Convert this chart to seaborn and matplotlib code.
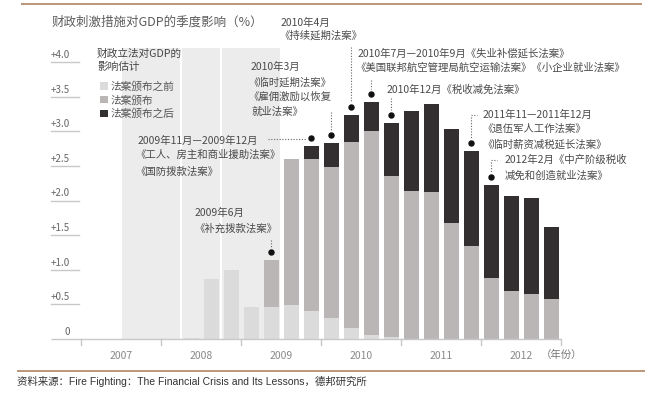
import matplotlib
matplotlib.use("Agg")
import matplotlib.pyplot as plt
from matplotlib.patches import Patch, Rectangle
import seaborn as sns
import pandas as pd

# ---------------- data ----------------
quarters = ["2008Q2", "2008Q3", "2008Q4", "2009Q1", "2009Q2", "2009Q3", "2009Q4",
            "2010Q1", "2010Q2", "2010Q3", "2010Q4", "2011Q1", "2011Q2", "2011Q3",
            "2011Q4", "2012Q1", "2012Q2", "2012Q3", "2012Q4"]
before = [0.02, 0.87, 1.00, 0.46, 0.46, 0.49, 0.41, 0.30, 0.16, 0.06, 0.03,
          0, 0, 0, 0, 0, 0, 0, 0]
enacted = [0, 0, 0, 0, 0.68, 2.11, 2.19, 2.19, 2.68, 2.94, 2.32,
           2.13, 2.12, 1.68, 1.34, 0.88, 0.70, 0.65, 0.58]
after = [0, 0, 0, 0, 0, 0, 0.18, 0.34, 0.39, 0.42, 0.77,
         1.16, 1.27, 1.35, 1.37, 1.34, 1.37, 1.38, 1.04]
series_names = ["法案颁布之前", "法案颁布", "法案颁布之后"]
years = ["2007", "2008", "2009", "2010", "2011", "2012"]
ytick_values = [0, 0.5, 1.0, 1.5, 2.0, 2.5, 3.0, 3.5, 4.0]
ytick_labels = ["0", "+0.5", "+1.0", "+1.5", "+2.0", "+2.5", "+3.0", "+3.5", "+4.0"]
shade_periods = [("2007Q3", "2008Q1"), ("2008Q2", "2008Q3"), ("2008Q4", "2009Q2")]

title = "财政刺激措施对GDP的季度影响（%）"
legend_title = ["财政立法对GDP的", "影响估计"]
source = "资料来源：Fire Fighting：The Financial Crisis and Its Lessons，德邦研究所"
unit_label = "（年份）"

# annotation text lines: (text, x_px, y_px)
annotation_texts = [
    ("2010年4月", 281, 23),
    ("《持续延期法案》", 279, 35),
    ("2010年7月—2010年9月《失业补偿延长法案》", 358, 53),
    ("《美国联邦航空管理局航空运输法案》《小企业就业法案》", 355, 68),
    ("2010年3月", 251, 67),
    ("《临时延期法案》", 248, 82),
    ("《雇佣激励以恢复", 248, 97),
    ("就业法案》", 251, 112),
    ("2010年12月《税收减免法案》", 387, 90),
    ("2009年11月—2009年12月", 138, 141),
    ("《工人、房主和商业援助法案》", 135, 155),
    ("《国防拨款法案》", 135, 172),
    ("2009年6月", 195, 213),
    ("《补充拨款法案》", 194, 229),
    ("2011年11—2011年12月", 483, 115),
    ("《退伍军人工作法案》", 482, 129),
    ("《临时薪资减税延长法案》", 482, 144),
    ("2012年2月《中产阶级税收", 505, 160),
    ("减免和创造就业法案》", 505, 176),
]
# annotated quarters with connector style
annotated = [
    ("2009Q2", "v", 240),
    ("2009Q4", "h", 268),
    ("2010Q1", "v", 112),
    ("2010Q2", "v", 47),
    ("2010Q3", "v", 80),
    ("2010Q4", "v", 98),
    ("2011Q4", "hv", 115),
    ("2012Q1", "hv", 160),
]

# ---------------- style ----------------
LIGHT = "#dcdbdb"
MID = "#bab6b6"
DARK = "#332e2f"
SHADE = "#ececec"
BROWN = "#b08463"
TXT = "#4a4a4a"

plt.rcParams["font.family"] = ["Noto Sans CJK SC", "DejaVu Sans"]

W, H = 645, 397
fig = plt.figure(figsize=(W / 100, H / 100), dpi=100)
ax = fig.add_axes([0, 0, 1, 1])

X0, QW, Y0, UNIT = 81, 20, 339, 69.25


def dx(px):
    return (px - X0) / QW


def dy(py):
    return (Y0 - py) / UNIT


def qindex(label):
    return (int(label[:4]) - 2007) * 4 + int(label[-1]) - 1


def qpos(label):
    return qindex(label) + 0.5


df = pd.DataFrame({"quarter": quarters, "before": before,
                   "enacted": enacted, "after": after})
df["pos"] = df["quarter"].map(qpos)
df["mid_top"] = df["before"] + df["enacted"]
df["total"] = df["mid_top"] + df["after"]

# background shading
for start, end in shade_periods:
    x_a = qindex(start) + 0.06
    x_b = qindex(end) + 1 - 0.06
    ax.add_patch(Rectangle((x_a, 0), x_b - x_a, dy(48), facecolor=SHADE,
                           edgecolor="none", zorder=0))

common = dict(data=df, x="pos", native_scale=True, saturation=1, width=0.75,
              linewidth=0, errorbar=None, ax=ax, orient="x", zorder=2)
sns.barplot(y="total", color=DARK, **common)
sns.barplot(y="mid_top", color=MID, **common)
sns.barplot(y="before", color=LIGHT, **common)

ax.set_xlim(dx(0), dx(W))
ax.set_ylim(dy(H), dy(0))
ax.axis("off")

# baseline + year ticks
ax.plot([dx(51), 24], [0, 0], color="#c8c8c8", lw=1.0, zorder=3,
        solid_capstyle="butt")
for i in range(len(years) + 1):
    ax.plot([4 * i, 4 * i], [0, dy(345)], color="#c8c8c8", lw=1.0, zorder=3)
for i, yr in enumerate(years):
    ax.text(4 * i + 2, dy(356), yr, ha="center", va="center", fontsize=7.5,
            color="#888888")
ax.text(dx(541), dy(355), unit_label, ha="left", va="center", fontsize=7.5,
        color="#777777")

# y ticks
for v, lab in zip(ytick_values, ytick_labels):
    if v > 0:
        ax.plot([dx(51), dx(79)], [v, v], color="#c8c8c8", lw=1.0, zorder=3)
    ax.text(dx(70), v + 7 / UNIT, lab, ha="right", va="center", fontsize=7,
            color="#666666")

# title
ax.text(dx(52), dy(22.5), title, ha="left", va="center", fontsize=9,
        color="#5c5c5c")

# legend
ax.text(dx(97), dy(54), legend_title[0], ha="left", va="center", fontsize=7.7,
        color="#444444")
ax.text(dx(97), dy(67), legend_title[1], ha="left", va="center", fontsize=7.7,
        color="#444444")
handles = [Patch(facecolor=c, edgecolor="none") for c in (LIGHT, MID, DARK)]
leg = ax.legend(handles, series_names, loc="upper left",
                bbox_to_anchor=(100 / W, 1 - 81 / H), bbox_transform=fig.transFigure,
                frameon=False, fontsize=7.7,
                handlelength=0.75, handleheight=0.7, handletextpad=0.2,
                labelspacing=0.3, borderpad=0, borderaxespad=0)
for t in leg.get_texts():
    t.set_color("#555555")

# annotations
for txt, px, py in annotation_texts:
    ax.text(dx(px), dy(py), txt, ha="left", va="center", fontsize=7.5, color=TXT)

DOT_OFF = 8 / UNIT
dot_style = dict(color="#666666", lw=0.8, linestyle=(0, (1, 1.5)), zorder=3)
for q, kind, val in annotated:
    row = df[df["quarter"] == q].iloc[0]
    xc = row["pos"]
    yd = row["total"] + DOT_OFF
    ax.plot([xc], [yd], marker="o", markersize=3.6, color="#111111", zorder=4)
    if kind == "v":
        ax.plot([xc, xc], [dy(val), yd + 5 / UNIT], **dot_style)
    elif kind == "h":
        ax.plot([dx(val), xc - 5 / QW], [yd - 1 / UNIT, yd - 1 / UNIT], **dot_style)
    else:
        ax.plot([xc, xc + 6 / QW], [dy(val), dy(val)], **dot_style)
        ax.plot([xc, xc], [dy(val + 2), yd + 5 / UNIT], **dot_style)

# frame rules and source
ax.plot([dx(21), dx(642)], [dy(3.5), dy(3.5)], color=BROWN, lw=1.2,
        solid_capstyle="butt")
ax.plot([dx(17), dx(645)], [dy(371), dy(371)], color=BROWN, lw=1.2,
        solid_capstyle="butt")
ax.text(dx(17), dy(381.5), source, ha="left", va="center", fontsize=7.5,
        color="#333333", family=["Liberation Sans", "Noto Sans CJK SC"])

fig.savefig("out.png", dpi=100, facecolor="white")
